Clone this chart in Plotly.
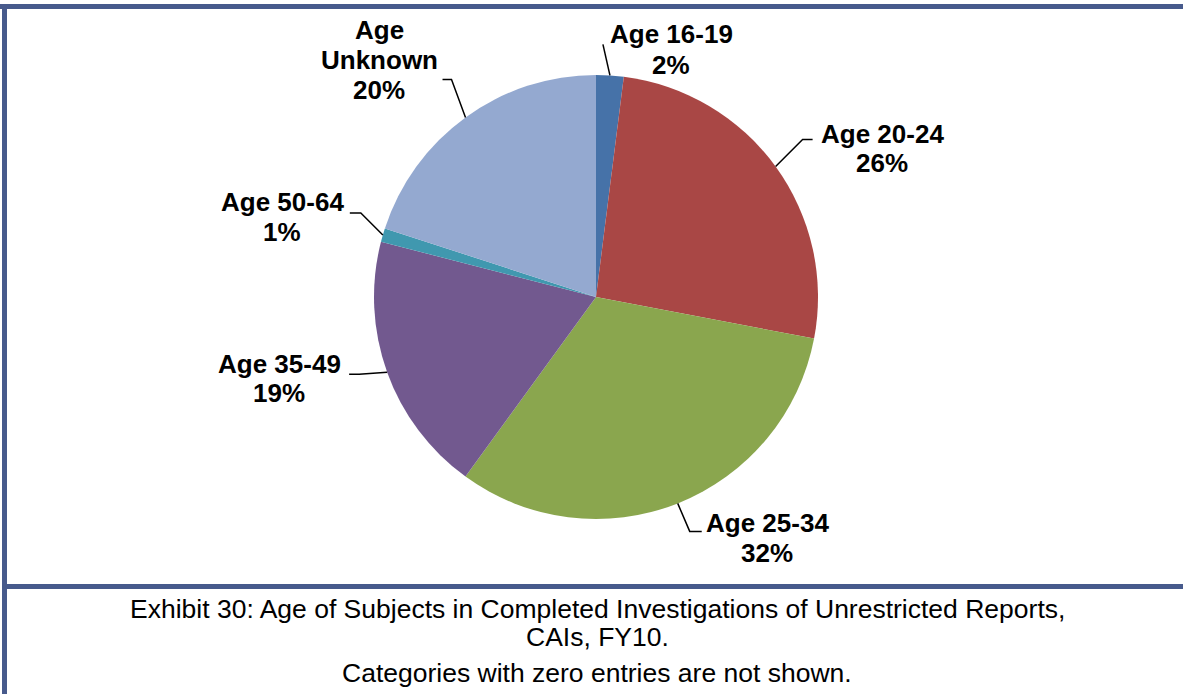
import math
import plotly.graph_objects as go

# Share of subjects by age group (percent)
categories = ["Age 16-19", "Age 20-24", "Age 25-34", "Age 35-49", "Age 50-64", "Age Unknown"]
percentages = [2, 26, 32, 19, 1, 20]
slice_colors = ["#4672A8", "#A94745", "#8AA64E", "#72598F", "#4098AF", "#94A9D0"]

caption_lines = [
    "Exhibit 30: Age of Subjects in Completed Investigations of Unrestricted Reports,",
    "CAIs, FY10.",
    "Categories with zero entries are not shown.",
]

W, H = 1183, 694
CX, CY, R = 596, 297, 222          # pie centre and radius in pixels
BORDER = "#475A8C"
LABEL_FONT = dict(family="Liberation Sans, Arial, sans-serif", size=26, color="black")
CAPTION_FONT = dict(family="Liberation Sans, Arial, sans-serif", size=26.5, color="black")

# Label placement: elbow offset from slice edge, horizontal tail, text centre x and line y's
label_layout = {
    "Age 16-19":   dict(elbow=(-7, -31), tail=0,   tx=671, ty=[34, 65],     lines=["Age 16-19"]),
    "Age 20-24":   dict(elbow=(27, -27), tail=10,  tx=882, ty=[134, 163],   lines=["Age 20-24"]),
    "Age 25-34":   dict(elbow=(12, 28),  tail=12,  tx=767, ty=[523, 553],   lines=["Age 25-34"]),
    "Age 35-49":   dict(elbow=(-28, 2),  tail=-10, tx=279, ty=[364, 393],   lines=["Age 35-49"]),
    "Age 50-64":   dict(elbow=(-22, -22), tail=-11, tx=282, ty=[202, 232],  lines=["Age 50-64"]),
    "Age Unknown": dict(elbow=(-14, -38), tail=-9, tx=379, ty=[30, 60, 90], lines=["Age", "Unknown"]),
}


def px(x):
    return x / W


def py(y):
    return 1 - y / H


fig = go.Figure()
fig.add_trace(go.Pie(
    labels=categories,
    values=percentages,
    sort=False,
    direction="clockwise",
    rotation=0,
    marker=dict(colors=slice_colors, line=dict(width=0)),
    textinfo="none",
    hoverinfo="label+percent",
    showlegend=False,
    domain=dict(x=[px(CX - R), px(CX + R)], y=[py(CY + R), py(CY - R)]),
))

shapes = []
annotations = []
total = sum(percentages)
cum = 0
for name, val in zip(categories, percentages):
    frac = (cum + val / 2) / total
    cum += val
    theta = 2 * math.pi * frac
    ex = CX + R * math.sin(theta)
    ey = CY - R * math.cos(theta)
    lay = label_layout[name]
    bx, by = ex + lay["elbow"][0], ey + lay["elbow"][1]
    tx_end = bx + lay["tail"]
    path = f"M {px(ex)} {py(ey)} L {px(bx)} {py(by)} L {px(tx_end)} {py(by)}"
    shapes.append(dict(type="path", xref="paper", yref="paper", path=path,
                       line=dict(color="black", width=1.5)))
    texts = lay["lines"] + [f"{val}%"]
    for t, yy in zip(texts, lay["ty"]):
        annotations.append(dict(
            text=f"<b>{t}</b>", x=px(lay["tx"]), y=py(yy), xref="paper", yref="paper",
            xanchor="center", yanchor="middle", showarrow=False, font=LABEL_FONT,
        ))

# Frame: top rule, left rule and the divider above the caption
shapes += [
    dict(type="line", xref="paper", yref="paper", x0=0, x1=1, y0=py(6.5), y1=py(6.5),
         line=dict(color=BORDER, width=5)),
    dict(type="line", xref="paper", yref="paper", x0=px(4.5), x1=px(4.5), y0=0, y1=py(4),
         line=dict(color=BORDER, width=5)),
    dict(type="line", xref="paper", yref="paper", x0=px(2), x1=1, y0=py(586.5), y1=py(586.5),
         line=dict(color=BORDER, width=5)),
]

for t, yy in zip(caption_lines, [609, 637, 673]):
    annotations.append(dict(
        text=t, x=px(597), y=py(yy), xref="paper", yref="paper",
        xanchor="center", yanchor="middle", showarrow=False, font=CAPTION_FONT,
    ))

fig.update_layout(
    width=W, height=H,
    margin=dict(l=0, r=0, t=0, b=0),
    paper_bgcolor="white", plot_bgcolor="white",
    shapes=shapes, annotations=annotations,
)

fig.write_html("out.html")
